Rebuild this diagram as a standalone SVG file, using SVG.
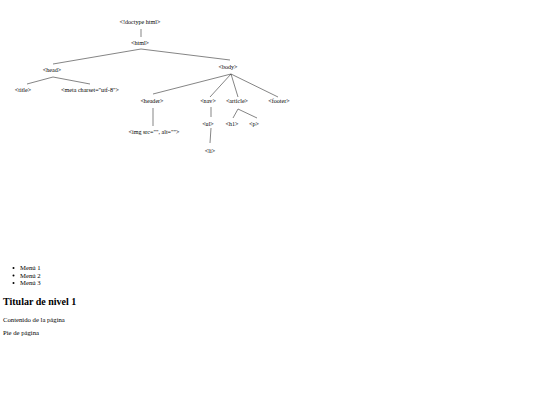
<svg xmlns="http://www.w3.org/2000/svg" width="540" height="405" viewBox="0 0 540 405">
<style>
.t{font-family:"Liberation Serif","Times New Roman",serif;font-size:6.1px;fill:#000;text-anchor:middle}
.b{font-family:"Liberation Serif","Times New Roman",serif;font-size:6.7px;fill:#000}
.h{font-family:"Liberation Serif","Times New Roman",serif;font-size:10px;font-weight:bold;fill:#000}
.c line{stroke:#333;stroke-width:0.6}
</style>
<rect width="540" height="405" fill="#fff"/>
<g class="c" id="connectors">
<line x1="141" y1="29" x2="141" y2="37"/>
<line x1="141" y1="49" x2="53" y2="64"/>
<line x1="141" y1="49" x2="230" y2="60"/>
<line x1="53" y1="77" x2="27" y2="84"/>
<line x1="53" y1="77" x2="90" y2="84"/>
<line x1="231" y1="74" x2="153" y2="94"/>
<line x1="231" y1="74" x2="210" y2="97"/>
<line x1="231" y1="74" x2="238" y2="97"/>
<line x1="231" y1="74" x2="278" y2="97"/>
<line x1="153" y1="108" x2="153" y2="126"/>
<line x1="211" y1="107" x2="211" y2="117"/>
<line x1="211" y1="128" x2="210" y2="143"/>
<line x1="238" y1="109" x2="233" y2="118"/>
<line x1="238" y1="109" x2="257" y2="118"/>
</g>
<g id="n-doctype"><text class="t" x="140" y="24">&lt;!doctype html&gt;</text></g>
<g id="n-html"><text class="t" x="140" y="45">&lt;html&gt;</text></g>
<g id="n-head"><text class="t" x="52" y="72">&lt;head&gt;</text></g>
<g id="n-body"><text class="t" x="228" y="69">&lt;body&gt;</text></g>
<g id="n-title"><text class="t" x="23" y="92">&lt;title&gt;</text></g>
<g id="n-meta"><text class="t" x="90" y="92">&lt;meta charset="utf-8"&gt;</text></g>
<g id="n-header"><text class="t" x="152" y="103">&lt;header&gt;</text></g>
<g id="n-nav"><text class="t" x="208" y="103">&lt;nav&gt;</text></g>
<g id="n-article"><text class="t" x="237" y="103">&lt;article&gt;</text></g>
<g id="n-footer"><text class="t" x="279" y="103">&lt;footer&gt;</text></g>
<g id="n-img"><text class="t" x="154" y="134">&lt;img src="", alt=""&gt;</text></g>
<g id="n-ul"><text class="t" x="208" y="126">&lt;ul&gt;</text></g>
<g id="n-h1"><text class="t" x="232" y="126">&lt;h1&gt;</text></g>
<g id="n-p"><text class="t" x="254" y="126">&lt;p&gt;</text></g>
<g id="n-li"><text class="t" x="210" y="153">&lt;li&gt;</text></g>
<g id="page">
<circle cx="13.5" cy="268" r="1"/>
<circle cx="13.5" cy="275.5" r="1"/>
<circle cx="13.5" cy="283" r="1"/>
<text class="b" x="20" y="270">Menú 1</text>
<text class="b" x="20" y="277.5">Menú 2</text>
<text class="b" x="20" y="285">Menú 3</text>
<text class="h" x="3" y="305">Titular de nivel 1</text>
<text class="b" x="3" y="321.5">Contenido de la página</text>
<text class="b" x="3" y="335">Pie de página</text>
</g>
</svg>
